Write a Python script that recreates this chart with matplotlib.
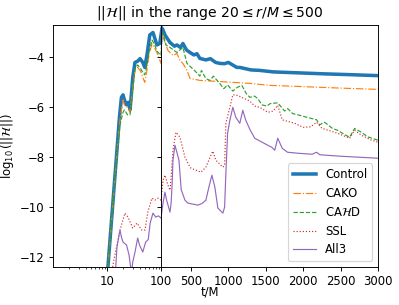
import matplotlib
matplotlib.use('Agg')
import matplotlib.pyplot as plt
from matplotlib.ticker import FixedLocator, FixedFormatter

# Control
control_t = [1, 9, 10.4, 12, 15.3, 17, 18.5, 19.8, 21, 23, 25, 26.7, 28, 30, 33,
             37, 41, 46, 50, 55, 62, 71, 84, 95, 105, 127, 153, 220, 280, 313,
             360, 393, 440, 487, 540, 580, 620, 700, 760, 830, 887, 950, 1000,
             1113, 1153, 1300, 1420, 1600, 1953, 2300, 2620, 3000]
control_y = [-14.5, -13.2, -12.4, -10.66, -7.7, -6.4, -5.6, -5.5, -5.7, -5.9, -5.8,
             -6.1, -5.6, -4.8, -4.2, -4.15, -4.05, -4.2, -4.4, -3.9, -3.1, -3.0,
             -3.5, -3.44, -2.8, -2.9, -3.1, -3.4, -3.55, -3.5, -3.6, -3.44, -3.7,
             -3.8, -3.9, -3.85, -4.04, -4.1, -4.05, -4.2, -4.24, -4.25, -4.2,
             -4.4, -4.4, -4.5, -4.52, -4.58, -4.62, -4.66, -4.69, -4.73]

# CAKO
cako_t = [1, 9, 10.4, 12, 15.3, 17.4, 19.8, 21, 24, 26.7, 30, 33, 37, 42, 46, 50,
          55, 60, 68, 75, 84, 100, 105, 127, 153, 193, 260, 313, 353, 393, 447,
          487, 620, 847, 1060, 1287, 1553, 2000, 2500, 3000]
cako_y = [-14.5, -13.2, -12.4, -10.7, -7.8, -6.5, -5.7, -5.9, -6.0, -6.2, -5.2,
          -4.5, -4.4, -4.55, -4.8, -5.0, -4.5, -3.9, -3.45, -3.6, -3.8, -4.24,
          -3.0, -3.2, -3.4, -3.72, -3.92, -3.84, -4.12, -4.24, -4.52, -4.84,
          -4.92, -4.96, -5.0, -5.04, -5.12, -5.17, -5.23, -5.28]

# CAHD
cahd_t = [1, 9, 10.4, 12, 15.3, 17.4, 19.8, 21, 24, 26.7, 30, 33, 37, 42, 46, 50,
          55, 60, 68, 75, 84, 100, 105, 127, 167, 220, 313, 393, 447, 540, 620,
          640, 700, 753, 800, 887, 940, 990, 1060, 1120, 1180, 1240, 1287, 1350,
          1393, 1450, 1513, 1560, 1660, 1753, 1793, 1860, 1953, 2050, 2180, 2220,
          2287, 2393, 2460, 2560, 2620, 2687, 2780, 2860, 3000]
cahd_y = [-14.5, -13.2, -12.4, -10.7, -7.8, -6.7, -6.2, -6.1, -6.3, -6.3, -5.3,
          -4.45, -4.3, -4.45, -4.6, -4.7, -4.3, -3.8, -3.3, -3.45, -3.75, -3.92,
          -3.0, -3.04, -3.5, -3.6, -3.8, -3.6, -4.24, -4.5, -4.75, -4.52, -4.85,
          -4.92, -4.75, -5.05, -5.25, -5.1, -5.35, -5.2, -5.12, -5.45, -5.6,
          -5.55, -5.65, -5.9, -5.95, -5.85, -5.82, -6.15, -6.05, -6.25, -6.32,
          -6.4, -6.5, -6.7, -6.6, -6.85, -6.92, -7.1, -7.2, -6.85, -7.0, -7.18,
          -7.32]

# SSL
ssl_t = [1, 11, 12.9, 15, 17.4, 19.8, 21.5, 24.5, 30, 36, 44, 50.5, 57, 68, 77,
         88, 100, 127, 153, 193, 220, 235, 260, 300, 353, 420, 470, 500, 593,
         633, 700, 767, 793, 833, 927, 950, 967, 1020, 1060, 1100, 1180, 1287,
         1353, 1420, 1527, 1600, 1660, 1720, 1887, 2000, 2100, 2180, 2250, 2460,
         2620, 2687, 2780, 2900, 3000]
ssl_y = [-16, -13.5, -12.3, -11.6, -10.92, -10.5, -10.24, -10.4, -10.84, -10.64,
         -10.92, -10.92, -10.2, -9.64, -9.72, -9.64, -9.72, -8.92, -8.72, -9.12,
         -9.32, -8.8, -7.72, -7.0, -7.2, -8.0, -8.3, -8.44, -8.55, -8.6, -8.4,
         -7.92, -7.76, -8.12, -8.4, -8.3, -6.64, -6.0, -5.5, -5.5, -5.6, -5.75,
         -5.95, -6.0, -6.2, -6.15, -5.92, -6.5, -6.64, -6.8, -6.78, -6.6, -6.84,
         -7.04, -7.24, -6.92, -7.12, -7.3, -7.4]

# All3
all3_t = [1, 13, 14.5, 15.3, 17.4, 18.5, 19.8, 23, 25.5, 27, 28.5, 30, 33, 37, 40,
          46, 52, 58, 63, 71, 80, 90, 100, 127, 153, 175, 220, 235, 250, 260,
          287, 340, 370, 420, 460, 593, 650, 700, 740, 780, 820, 860, 927, 950,
          967, 990, 1020, 1060, 1100, 1153, 1193, 1233, 1290, 1353, 1527, 1580,
          1620, 1660, 1720, 1790, 1930, 2120, 2180, 2220, 2500, 3000]
all3_y = [-16, -13.5, -12.4, -11.6, -10.92, -11.2, -11.4, -11.52, -11.9, -12.3,
          -12.6, -12.2, -11.8, -11.24, -11.52, -11.8, -11.4, -11.3, -10.64,
          -10.24, -10.4, -10.35, -10.44, -9.84, -9.4, -9.72, -10.2, -9.84, -9.0,
          -8.1, -7.52, -8.12, -9.3, -9.72, -9.84, -9.92, -9.85, -9.72, -9.2,
          -8.72, -9.2, -10.04, -10.24, -10.0, -8.64, -7.04, -6.52, -6.0, -6.4,
          -6.64, -6.12, -6.52, -6.9, -7.24, -7.52, -7.6, -7.72, -7.24, -7.64,
          -7.8, -7.84, -7.88, -7.8, -7.9, -7.96, -8.04]

series = [
    ('Control', control_t, control_y, '-', 3.0, 'C0'),
    ('CAKO', cako_t, cako_y, '-.', 1.0, 'C1'),
    ('CA$\\mathcal{H}$D', cahd_t, cahd_y, '--', 1.0, 'C2'),
    ('SSL', ssl_t, ssl_y, ':', 1.0, 'C3'),
    ('All3', all3_t, all3_y, '-', 1.0, 'C4'),
]

dpi = 84
fig = plt.figure(figsize=(399 / dpi, 305 / dpi), dpi=dpi)
ax1 = fig.add_axes([53 / 399, 1 - 267 / 305, 108 / 399, 242 / 305])
ax2 = fig.add_axes([161 / 399, 1 - 267 / 305, 217 / 399, 242 / 305], sharey=ax1)

for name, t, y, ls, lw, c in series:
    ax1.plot(t, y, ls, lw=lw, color=c, label=name)
    ax2.plot(t, y, ls, lw=lw, color=c, label=name)

ax1.set_xscale('log')
ax1.set_xlim(1, 100)
ax1.xaxis.set_major_locator(FixedLocator([10, 100]))
ax1.xaxis.set_major_formatter(FixedFormatter(['10', '100']))
ax1.set_ylim(-12.4, -2.7)
ax1.set_yticks([-12, -10, -8, -6, -4])
ax1.set_ylabel(r'$\log_{10}(||\mathcal{H}||)$')

ax2.set_xlim(100, 3000)
ax2.set_xticks([500, 1000, 1500, 2000, 2500, 3000])
ax2.tick_params(axis='y', labelleft=False)
ax2.legend(loc='lower right')

fig.text(210 / 399, 1 - 292 / 305, 't/M', ha='center', va='center', fontsize=10)
fig.text(210 / 399, 1 - 13 / 305,
         r'$||\mathcal{H}||$ in the range $20 \leq r/M \leq 500$',
         ha='center', va='center', fontsize=12)

fig.savefig('out.png', dpi=dpi)
